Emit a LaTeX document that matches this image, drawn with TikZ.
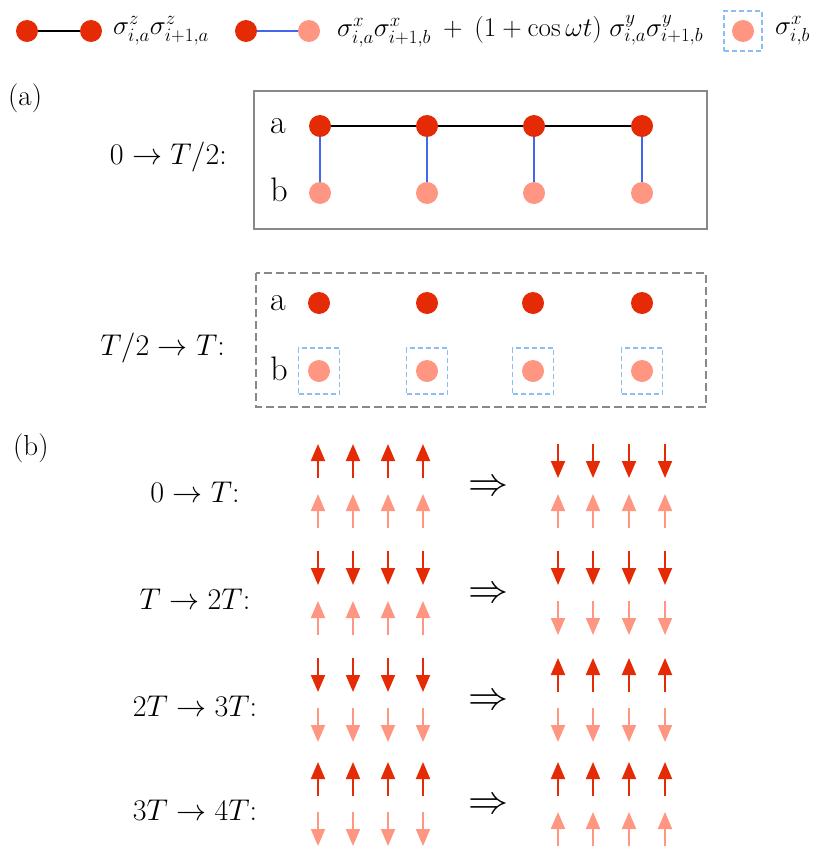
\RequirePackage{fix-cm}
\documentclass[tikz,border=0pt]{standalone}
\usetikzlibrary{arrows.meta}
\definecolor{dred}{HTML}{E52A06}
\definecolor{lred}{HTML}{FF9682}
\definecolor{bline}{HTML}{4466EE}
\definecolor{lblue}{HTML}{8CBDF3}
\definecolor{boxgray}{HTML}{888888}
\begin{document}
\begin{tikzpicture}[x=1pt,y=-1pt,
  dotA/.style={circle,fill=dred,inner sep=0pt,minimum size=22pt},
  dotB/.style={circle,fill=lred,inner sep=0pt,minimum size=22pt},
  sqbox/.style={draw=lblue,dash pattern=on 5pt off 3pt,line width=1.3pt,minimum width=41pt,minimum height=46pt,inner sep=0pt},
  spinA/.style={dred,line width=2pt,-{Triangle[width=14pt,length=17pt]}},
  spinB/.style={lred,line width=2pt,-{Triangle[width=14pt,length=17pt]}},
  lbl/.style={font=\fontsize{30}{36}\selectfont,inner sep=0pt},
  leg/.style={font=\fontsize{27}{32}\selectfont,inner sep=0pt},
  panlbl/.style={font=\fontsize{29}{35}\selectfont,inner sep=0pt},
  rowlbl/.style={font=\fontsize{34}{40}\selectfont,inner sep=0pt},
  imp/.style={font=\fontsize{40}{48}\selectfont,inner sep=0pt},
  zzline/.style={black,line width=2pt},
  xyline/.style={bline,line width=2pt},
  frame/.style={draw=boxgray,line width=2pt}
]
\useasboundingbox (0,0) rectangle (831,859);

% ---------- legend ----------
\node[dotA] (l1) at (27,31) {};
\node[dotA] (l2) at (91,31) {};
\draw[zzline] (l1) -- (l2);
\node[leg,anchor=west] (t1) at (113,31) {$\sigma^z_{i,a}\sigma^z_{i+1,a}$};
\node[dotA] (l3) at (246,31) {};
\node[dotB] (l4) at (309,31) {};
\draw[xyline] (l3) -- (l4);
\node[leg,anchor=west] (t2) at (337,31) {$\sigma^x_{i,a}\sigma^x_{i+1,b}\mskip4mu+\mskip4mu(1+\cos\omega t)\;\sigma^y_{i,a}\sigma^y_{i+1,b}$};
\node[dotB] (l5) at (743,31) {};
\node[sqbox,minimum width=38pt,minimum height=40pt] (l5s) at (743,31) {};
\node[leg,anchor=west] (t3) at (775,31) {$\sigma^x_{i,b}$};

% ---------- (a) ----------
\node[panlbl,anchor=west] (pa) at (8,98) {(a)};
\node[lbl,anchor=east] (la1) at (227,157) {$0\rightarrow T/2$:};
\node[lbl,anchor=east] (la2) at (225,348) {$T/2\rightarrow T$:};

\draw[frame] (254,91) rectangle (707,229);
\draw[frame,dash pattern=on 8pt off 4pt] (256,273) rectangle (706,407);

\node[rowlbl] (a1) at (278,126) {a};
\node[rowlbl] (b1) at (279,190) {b};
\node[rowlbl] (a2) at (278,303) {a};
\node[rowlbl] (b2) at (279,369) {b};

\foreach \i/\x in {1/320,2/427,3/534,4/642}{
  \node[dotA] (A\i) at (\x,126) {};
  \node[dotB] (B\i) at (\x,193) {};
  \draw[xyline] (A\i) -- (B\i);
}
\draw[zzline] (A1) -- (A2);
\draw[zzline] (A2) -- (A3);
\draw[zzline] (A3) -- (A4);

\foreach \i/\x in {1/319,2/427,3/533,4/642}{
  \node[dotA] (C\i) at (\x,303) {};
  \node[dotB] (D\i) at (\x,371) {};
  \node[sqbox] (S\i) at (\x,371) {};
}

% ---------- (b) ----------
\node[panlbl,anchor=west] (pb) at (13,448) {(b)};
\foreach \r/\y/\lab/\la/\lb/\ra/\rb in {
  1/461/{$0\rightarrow T$:}/1/1/-1/1,
  2/568/{$T\rightarrow 2T$:}/-1/1/-1/-1,
  3/675/{$2T\rightarrow 3T$:}/-1/-1/1/-1,
  4/779/{$3T\rightarrow 4T$:}/1/-1/1/1}{
  \node[lbl] (lb\r) at (195,\y+31) {\lab};
  \node[imp] (imp\r) at (488,\y+27) {$\Rightarrow$};
  \foreach \x in {318,353,388,423}{
    \draw[spinA] (\x,{\y+17*\la}) -- (\x,{\y-17*\la});
    \draw[spinB] (\x,{\y+50+17*\lb}) -- (\x,{\y+50-17*\lb});
  }
  \foreach \x in {558,593,629,665}{
    \draw[spinA] (\x,{\y+17*\ra}) -- (\x,{\y-17*\ra});
    \draw[spinB] (\x,{\y+50+17*\rb}) -- (\x,{\y+50-17*\rb});
  }
}
\end{tikzpicture}
\end{document}
